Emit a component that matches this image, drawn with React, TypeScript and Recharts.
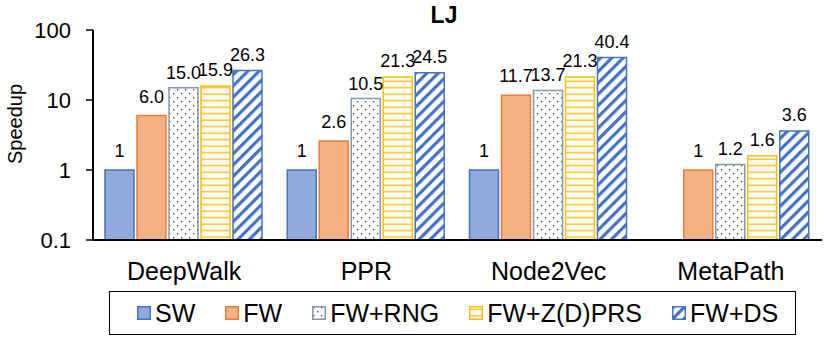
import React from 'react';
import { BarChart, Bar, XAxis, YAxis, Legend, LabelList, Label } from 'recharts';

const categories = ['DeepWalk', 'PPR', 'Node2Vec', 'MetaPath'];
const swValues = [1, 1, 1, null];
const fwValues = [6.0, 2.6, 11.7, 1];
const fwRngValues = [15.0, 10.5, 13.7, 1.2];
const fwZprsValues = [15.9, 21.3, 21.3, 1.6];
const fwDsValues = [26.3, 24.5, 40.4, 3.6];
const yTicks = [0.1, 1, 10, 100];
const seriesNames = ['SW', 'FW', 'FW+RNG', 'FW+Z(D)PRS', 'FW+DS'];
const chartTitle = 'LJ';
const yLabel = 'Speedup';

const data = categories.map((name, i) => ({
  name,
  sw: swValues[i],
  fw: fwValues[i],
  rng: fwRngValues[i],
  zprs: fwZprsValues[i],
  ds: fwDsValues[i],
}));

const FONT = '"Liberation Sans", Arial, Helvetica, sans-serif';

const series = [
  { key: 'sw', name: seriesNames[0], fill: '#8faadc', stroke: '#4472c4', legendFill: '#8faadc', offset: 13 },
  { key: 'fw', name: seriesNames[1], fill: '#f4b183', stroke: '#ed7d31', legendFill: '#f4b183', offset: 13 },
  { key: 'rng', name: seriesNames[2], fill: 'url(#dotsPat)', stroke: '#8497b0', legendFill: 'url(#dotsPat)', offset: 9 },
  { key: 'zprs', name: seriesNames[3], fill: 'url(#hlinesPat)', stroke: '#ffc000', legendFill: 'url(#hlinesPat)', offset: 10 },
  { key: 'ds', name: seriesNames[4], fill: 'url(#diagPat)', stroke: '#4472c4', legendFill: 'url(#diagPat)', offset: 10 },
];

const fmt = (v: any) => {
  if (v === null || v === undefined) return '';
  return v === 1 ? '1' : Number(v).toFixed(1);
};

const renderLegend = () => (
  <div
    style={{
      boxSizing: 'border-box',
      width: 687,
      height: 44,
      border: '1.5px solid #000',
      display: 'flex',
      alignItems: 'center',
      paddingLeft: 27,
      fontFamily: FONT,
      fontSize: 25,
      color: '#000',
      background: '#fff',
    }}
  >
    {series.map((s) => (
      <div key={s.key} style={{ display: 'flex', alignItems: 'center', marginRight: 30 }}>
        <svg width={14} height={14} style={{ display: 'block' }}>
          <rect x={0.75} y={0.75} width={12.5} height={12.5} fill={s.legendFill} stroke={s.stroke} strokeWidth={1.5} />
        </svg>
        <span style={{ marginLeft: 4, lineHeight: '28px', whiteSpace: 'nowrap' }}>{s.name}</span>
      </div>
    ))}
  </div>
);

const YLabelContent = (props: any) => {
  const vb = props.viewBox || {};
  const x = 15;
  const y = (vb.y ?? 30) + (vb.height ?? 210) / 2 - 11;
  return (
    <g>
      <text
        x={x}
        y={y}
        transform={`rotate(-90, ${x}, ${y})`}
        textAnchor="middle"
        dominantBaseline="central"
        fontFamily={FONT}
        fontSize={20}
        fill="#000"
      >
        {yLabel}
      </text>
      <text
        x={444}
        y={23}
        textAnchor="middle"
        fontFamily={FONT}
        fontSize={23}
        fontWeight="bold"
        fill="#000"
      >
        {chartTitle}
      </text>
    </g>
  );
};

export default function App() {
  return (
    <div style={{ position: 'absolute', left: 0, top: 0, width: 831, height: 342, background: '#fff' }}>
      <BarChart
        width={831}
        height={342}
        data={data}
        margin={{ top: 30, right: 9, left: 0, bottom: 0 }}
        barCategoryGap={12}
        barGap={3}
        style={{ fontFamily: FONT }}
      >
        <defs>
          <pattern id="dotsPat" width="8" height="8" patternUnits="userSpaceOnUse">
            <rect width="8" height="8" fill="#fff" />
            <rect x="1" y="1" width="1.3" height="1.3" fill="#333f50" />
            <rect x="5" y="5" width="1.3" height="1.3" fill="#333f50" />
          </pattern>
          <pattern id="hlinesPat" width="6" height="6.5" patternUnits="userSpaceOnUse">
            <rect width="6" height="6.5" fill="#fff" />
            <rect x="0" y="2.5" width="6" height="1.4" fill="#ffc000" />
          </pattern>
          <pattern id="diagPat" width="8" height="8" patternUnits="userSpaceOnUse" patternTransform="rotate(45)">
            <rect width="8" height="8" fill="#fff" />
            <rect x="0" y="0" width="3.2" height="8" fill="#4472c4" />
          </pattern>
        </defs>
        <XAxis
          dataKey="name"
          interval={0}
          tickLine={false}
          tickSize={6}
          tickMargin={16}
          height={58}
          axisLine={{ stroke: '#000', strokeWidth: 2 }}
          tick={{ fontSize: 25, fill: '#000', fontFamily: FONT }}
        />
        <XAxis
          xAxisId="top"
          orientation="top"
          dataKey="name"
          height={0}
          tick={false}
          tickLine={false}
          axisLine={{ stroke: '#000', strokeWidth: 2 }}
        />
        <YAxis
          scale="log"
          domain={[0.1, 100]}
          ticks={yTicks}
          allowDataOverflow
          width={93}
          tickSize={7}
          tickMargin={15}
          interval={0}
          tickFormatter={(v: number) => String(v)}
          axisLine={{ stroke: '#000', strokeWidth: 2 }}
          tickLine={{ stroke: '#000', strokeWidth: 1.5 }}
          tick={{ fontSize: 22, fill: '#000', fontFamily: FONT }}
        >
          <Label content={<YLabelContent />} />
        </YAxis>
        <YAxis
          yAxisId="right"
          orientation="right"
          width={0}
          tick={false}
          tickLine={false}
          axisLine={{ stroke: '#000', strokeWidth: 2 }}
        />
        <Legend
          verticalAlign="bottom"
          content={renderLegend}
          wrapperStyle={{ position: 'absolute', left: 109, top: 291, bottom: 'auto', width: 687, height: 44 }}
        />
        {series.map((s) => (
          <Bar
            key={s.key}
            dataKey={s.key}
            name={s.name}
            fill={s.fill}
            stroke={s.stroke}
            strokeWidth={1.5}
            isAnimationActive={false}
          >
            <LabelList
              dataKey={s.key}
              position="top"
              offset={s.offset}
              formatter={fmt}
              style={{ fontSize: 18, fill: '#000', fontFamily: FONT }}
            />
          </Bar>
        ))}
      </BarChart>
    </div>
  );
}
